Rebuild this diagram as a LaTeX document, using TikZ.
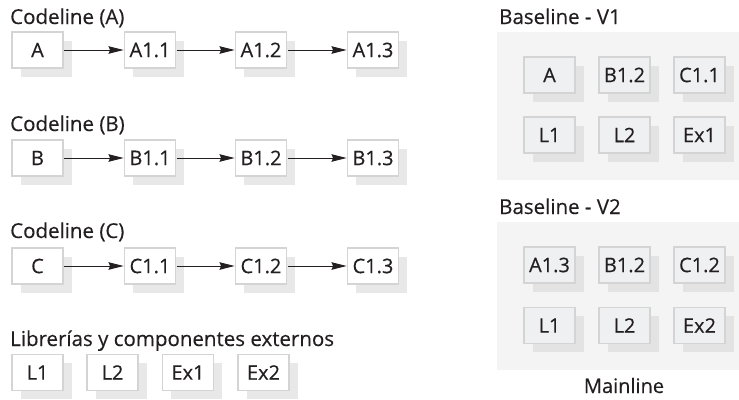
\documentclass[tikz,border=0pt]{standalone}
\usepackage{fontspec}
\setmainfont{Open Sans}[FakeBold=0.35]
\usetikzlibrary{arrows.meta,shadows}
\definecolor{txt}{HTML}{231F20}
\definecolor{bordc}{HTML}{D4D4D4}
\definecolor{shadec}{HTML}{E8E8E8}
\definecolor{panelc}{HTML}{F4F4F4}
\definecolor{pboxc}{HTML}{EFF0F2}
\definecolor{pshadec}{HTML}{E3E3E3}
\begin{document}
\begin{tikzpicture}[x=1pt,y=-1pt,
  cbox/.style={draw=bordc, line width=1.9pt, fill=white, minimum width=51pt, minimum height=36pt, inner sep=0pt,
    font=\fontsize{20}{24}\selectfont, text=txt,
    drop shadow={shadow xshift=8.5pt, shadow yshift=-8.5pt, fill=shadec, opacity=1}},
  pbox/.style={cbox, fill=pboxc, drop shadow={shadow xshift=8.5pt, shadow yshift=-8.5pt, fill=pshadec, opacity=1}},
  panel/.style={fill=panelc, draw=none, inner sep=0pt, minimum width=242pt, minimum height=148pt},
  lbl/.style={anchor=base west, inner sep=0pt, font=\fontsize{20.5}{24}\selectfont, text=txt},
  arr/.style={-{Stealth[length=15pt,width=7.5pt,inset=1.5pt]}, line width=1pt, draw=txt, shorten <=0.5pt}]
\useasboundingbox (0,0) rectangle (739,399);
% left labels
\node[lbl] (la) at (10,24) {Codeline (A)};
\node[lbl] (lb) at (10,131) {Codeline (B)};
\node[lbl] (lc) at (10,238) {Codeline (C)};
\node[lbl] (ll) at (10,346) {Librerías y componentes externos};
% codeline A
\node[cbox] (a0) at (37.5,50) {A};
\node[cbox] (a1) at (150,50) {A1.1};
\node[cbox] (a2) at (261,50) {A1.2};
\node[cbox] (a3) at (373,50) {A1.3};
% codeline B
\node[cbox] (b0) at (37.5,158) {B};
\node[cbox] (b1) at (150,158) {B1.1};
\node[cbox] (b2) at (261,158) {B1.2};
\node[cbox] (b3) at (373,158) {B1.3};
% codeline C
\node[cbox] (c0) at (37.5,266) {C};
\node[cbox] (c1) at (150,266) {C1.1};
\node[cbox] (c2) at (261,266) {C1.2};
\node[cbox] (c3) at (373,266) {C1.3};
\foreach \r in {a,b,c}{
  \draw[arr] (\r0) -- (\r1);
  \draw[arr] (\r1) -- (\r2);
  \draw[arr] (\r2) -- (\r3);
}
% libraries
\node[cbox] (l1) at (37.5,372.5) {L1};
\node[cbox] (l2) at (112.5,372.5) {L2};
\node[cbox] (e1) at (188,372.5) {Ex1};
\node[cbox] (e2) at (263.5,372.5) {Ex2};
% right side
\node[lbl] (lv1) at (499,24) {Baseline - V1};
\node[panel] (p1) at (618,106) {};
\node[pbox] (v1a) at (549.5,75) {A};
\node[pbox] (v1b) at (624.5,75) {B1.2};
\node[pbox] (v1c) at (699.5,75) {C1.1};
\node[pbox] (v1d) at (549.5,135) {L1};
\node[pbox] (v1e) at (624.5,135) {L2};
\node[pbox] (v1f) at (699.5,135) {Ex1};
\node[lbl] (lv2) at (499,214) {Baseline - V2};
\node[panel] (p2) at (618,296) {};
\node[pbox] (v2a) at (549.5,265) {A1.3};
\node[pbox] (v2b) at (624.5,265) {B1.2};
\node[pbox] (v2c) at (699.5,265) {C1.2};
\node[pbox] (v2d) at (549.5,325.5) {L1};
\node[pbox] (v2e) at (624.5,325.5) {L2};
\node[pbox] (v2f) at (699.5,325.5) {Ex2};
\node[anchor=base, inner sep=0pt, font=\fontsize{20}{24}\selectfont, text=txt] (ml) at (624,393) {Mainline};
\end{tikzpicture}
\end{document}
